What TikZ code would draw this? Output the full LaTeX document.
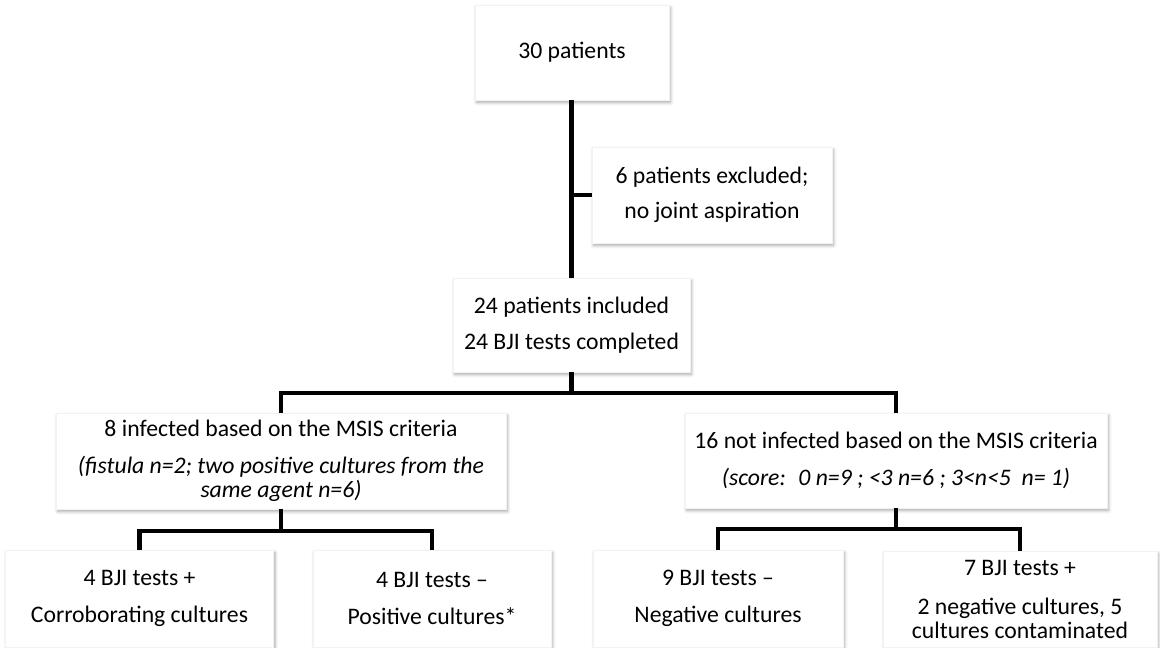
\documentclass[tikz,border=0pt]{standalone}
\usepackage{fontspec}
\setmainfont{Carlito}
\usetikzlibrary{shadows.blur}
\begin{document}
\begin{tikzpicture}[x=1pt,y=-1pt,
  box/.style={fill=white, draw=black!5, line width=0.4pt, align=center, inner sep=0pt,
     font=\fontsize{23.7}{24}\selectfont,
     blur shadow={shadow xshift=1.5pt, shadow yshift=-2.5pt, shadow blur radius=3pt, shadow opacity=35}},
  conn/.style={line width=4.5pt, line join=miter}]
\useasboundingbox (0,0) rectangle (1160,648);
\node[box, minimum width=194pt, minimum height=95pt] (top) at (572,52.5) {30 patients};
\node[box, minimum width=240pt, minimum height=96pt] (excl) at (712,195) {6 patients excluded;\\[11pt]no joint aspiration};
\node[box, minimum width=237pt, minimum height=94pt] (mid) at (571.5,325) {24 patients included\\[12.5pt]24 BJI tests completed};
\node[box, minimum width=450pt, minimum height=96pt] (L) at (281,461) {8 infected based on the MSIS criteria\\[13pt]\itshape (fistula n=2; two positive cultures from the\\\itshape same agent n=6)};
\node[box, minimum width=422pt, minimum height=95pt] (R) at (896,460.5) {16 not infected based on the MSIS criteria\\[12.5pt]\itshape (score:~ 0 n=9 ; <3 n=6 ; 3<n<5~ n= 1)};
\node[box, minimum width=268pt, minimum height=97pt] (B1) at (139.5,598.5) {4 BJI tests +\\[12.5pt]Corroborating cultures};
\node[box, minimum width=238pt, minimum height=97pt] (B2) at (432,598.5) {4 BJI tests –\\[12.5pt]Positive cultures*};
\node[box, minimum width=250pt, minimum height=97pt] (B3) at (718,598.5) {9 BJI tests –\\[12.5pt]Negative cultures};
\node[box, minimum width=274pt, minimum height=96pt] (B4) at (1020,599) {7 BJI tests +\\[15pt]2 negative cultures, 5\\cultures contaminated};
% connectors
\draw[conn] (top.south -| mid.north) -- (mid.north);
\draw[conn] (excl.west) -- (excl.west -| mid.north);
\coordinate (j1) at ([yshift=-21pt]mid.south);
\draw[conn] (mid.south) -- (j1);
\draw[conn] (L.north) |- (j1) -| (R.north);
\coordinate (j2) at ([yshift=-22pt]L.south);
\draw[conn] (L.south) -- (j2);
\draw[conn] (B1.north) |- (j2) -| (B2.north);
\coordinate (j3) at ([yshift=-21pt]R.south);
\draw[conn] (R.south) -- (j3);
\draw[conn] (B3.north) |- (j3) -| (B4.north);
\end{tikzpicture}
\end{document}
